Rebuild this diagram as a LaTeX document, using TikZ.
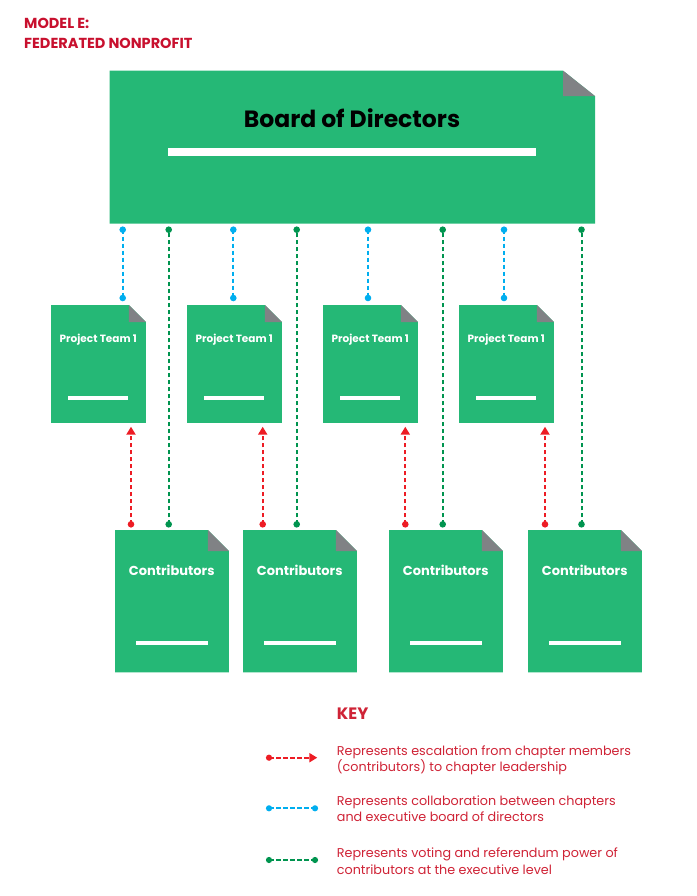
\documentclass[tikz,border=0pt]{standalone}
\usepackage{fontspec}
\setmainfont{Poppins}
\usetikzlibrary{arrows.meta,backgrounds}
\definecolor{boxgreen}{HTML}{25B876}
\definecolor{foldgray}{HTML}{808285}
\definecolor{lineblue}{HTML}{00AEEF}
\definecolor{linegreen}{HTML}{00944F}
\definecolor{linered}{HTML}{ED1C24}
\definecolor{titlered}{HTML}{C8102E}
\definecolor{keyred}{HTML}{CF2336}
\tikzset{
  docnode/.style={rectangle, inner sep=0pt, draw=none, fill=none},
  conn/.style={line width=2pt, dash pattern=on 4.5pt off 2.5pt},
  bluec/.style={conn, draw=lineblue},
  greenc/.style={conn, draw=linegreen},
  redc/.style={conn, draw=linered, -{Triangle[length=8pt,width=9pt]}},
  dotblue/.style={fill=lineblue},
  dotgreen/.style={fill=linegreen},
  dotred/.style={fill=linered},
  boardtext/.style={font=\bfseries\fontsize{23.5}{28}\selectfont, text=black, inner sep=0pt, anchor=base},
  pttext/.style={font=\bfseries\fontsize{10.5}{12}\selectfont, text=white, inner sep=0pt, anchor=base},
  ctext/.style={font=\bfseries\fontsize{13}{15}\selectfont, text=white, inner sep=0pt, anchor=base},
  titletext/.style={font=\bfseries\fontsize{14.5}{20}\selectfont, text=titlered, inner sep=0pt, anchor=base west, align=left},
  keyhead/.style={font=\bfseries\fontsize{16.5}{20}\selectfont, text=keyred, inner sep=0pt, anchor=base west},
  keytext/.style={font=\fontsize{12.75}{16.7}\selectfont, text=keyred, inner sep=0pt, anchor=base west, align=left},
}
% name, left, top, width, height, foldx, foldy
\newcommand{\docbox}[7]{%
  \node[docnode, minimum width=#4pt, minimum height=#5pt, anchor=north west] (#1) at (#2,#3) {};
  \begin{scope}[on background layer]
    \fill[boxgreen] (#1.north west) -- ([xshift=-#6pt]#1.north east) -- ([yshift=-#7pt]#1.north east) -- (#1.south east) -- (#1.south west) -- cycle;
    \fill[foldgray] ([xshift=-#6pt]#1.north east) -- ([xshift=-#6pt,yshift=-#7pt]#1.north east) -- ([yshift=-#7pt]#1.north east) -- cycle;
  \end{scope}}
\begin{document}
\begin{tikzpicture}[x=1pt,y=-1pt]
\useasboundingbox (0,0) rectangle (696,896);

% title (anchor = baseline of last line)
\node[titletext] (title) at (24,48.3) {MODEL E:\\FEDERATED NONPROFIT};

% board
\docbox{board}{109.5}{70.7}{485.2}{152.6}{32}{25.5}
\node[boardtext] (boardlbl) at (352,127.7) {Board of Directors};
\fill[white] (168,148.3) rectangle (536,155.7);

% project teams
\foreach \i/\l in {1/51,2/187,3/323,4/459}{
  \docbox{pt\i}{\l}{305}{94.5}{117.5}{17}{17}
  \node[pttext] (ptl\i) at (\l+47.25,342.3) {Project Team 1};
  \fill[white] (\l+17.25,396) rectangle (\l+77.25,399.7);
}

% contributors
\foreach \i/\l in {1/115,2/243,3/389,4/528}{
  \docbox{c\i}{\l}{530}{113.5}{142}{21}{21}
  \node[ctext] (cl\i) at (\l+56.75,575) {Contributors};
  \fill[white] (\l+20.75,641.3) rectangle (\l+92.75,645);
}

% blue: board <-> project teams
\foreach \i/\x in {1/122.7,2/233.3,3/368,4/504}{
  \coordinate (bb\i) at (\x,229.7);
  \coordinate (bp\i) at (\x,298);
  \draw[bluec] (bb\i) -- (bp\i);
  \fill[dotblue] (bb\i) circle (3.3);
  \fill[dotblue] (bp\i) circle (3.3);
}

% green: contributors -> board
\foreach \i/\x in {1/168.7,2/296.7,3/442.7,4/581.5}{
  \coordinate (gb\i) at (\x,229.7);
  \coordinate (gc\i) at (\x,524.3);
  \draw[greenc] (gc\i) -- (gb\i);
  \fill[dotgreen] (gb\i) circle (3.3);
  \fill[dotgreen] (gc\i) circle (3.3);
}

% red: contributors -> project teams
\foreach \i/\x in {1/131,2/262.7,3/405.3,4/545}{
  \coordinate (rc\i) at (\x,524.3);
  \coordinate (rp\i) at (\x,426.7);
  \draw[redc] (rc\i) -- (rp\i);
  \fill[dotred] (rc\i) circle (3.3);
}

% key
\node[keyhead] (key) at (336.7,719.3) {KEY};

\coordinate (k1a) at (269,757.7);
\coordinate (k1b) at (317.3,757.7);
\draw[redc] (k1a) -- (k1b);
\fill[dotred] (k1a) circle (3.1);
\node[keytext] (k1t) at (336.7,771.7) {Represents escalation from chapter members\\(contributors) to chapter leadership};

\coordinate (k2a) at (269,808.3);
\coordinate (k2b) at (315,808.3);
\draw[bluec] (k2a) -- (k2b);
\fill[dotblue] (k2a) circle (3.1);
\fill[dotblue] (k2b) circle (3.1);
\node[keytext] (k2t) at (336.7,821.7) {Represents collaboration between chapters\\and executive board of directors};

\coordinate (k3a) at (269,860);
\coordinate (k3b) at (315,860);
\draw[greenc] (k3a) -- (k3b);
\fill[dotgreen] (k3a) circle (3.1);
\fill[dotgreen] (k3b) circle (3.1);
\node[keytext] (k3t) at (336.7,874) {Represents voting and referendum power of\\contributors at the executive level};
\end{tikzpicture}
\end{document}
